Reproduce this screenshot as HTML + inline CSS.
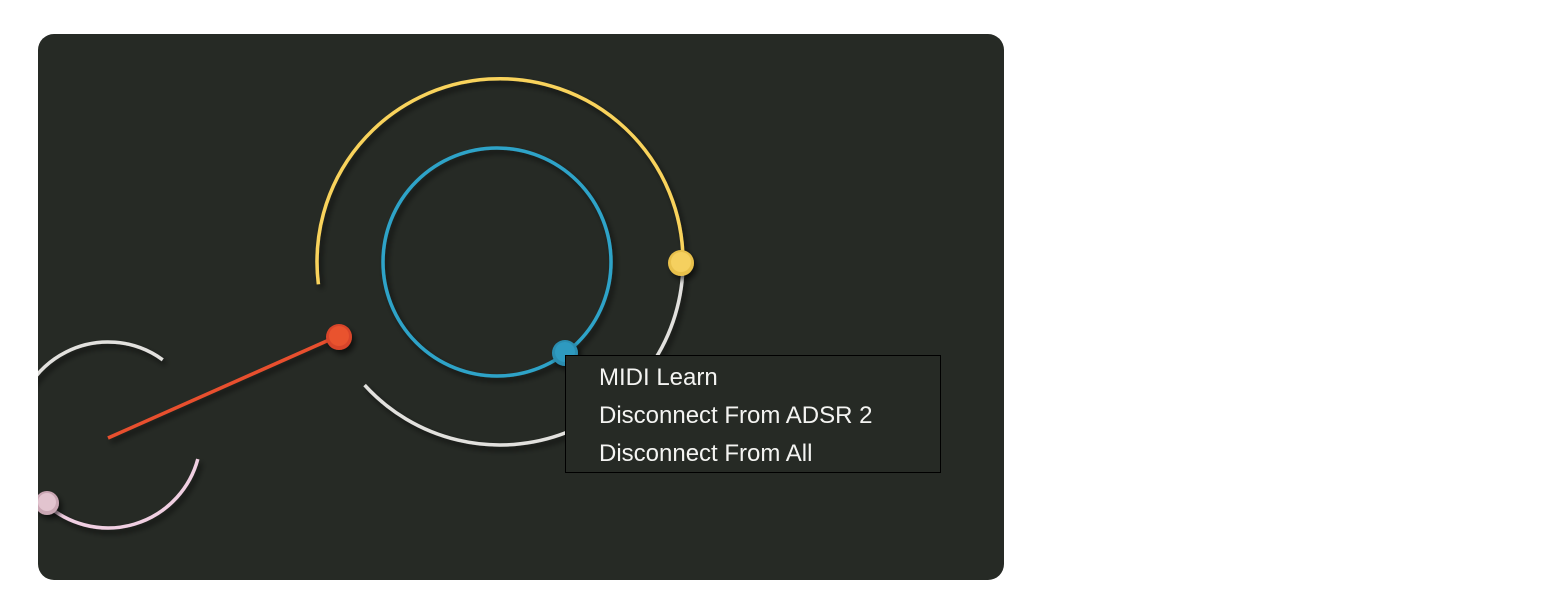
<!DOCTYPE html>
<html><head><style>
html,body{margin:0;padding:0;background:#fff;width:1550px;height:614px;overflow:hidden}
.menu{position:absolute;left:565px;top:355px;width:374px;height:116px;border:1px solid #000;background:#262a25;box-sizing:content-box}
.menu div{position:absolute;left:33px;color:#f4f4f2;font:24px "Liberation Sans",sans-serif;white-space:nowrap}
</style></head><body>
<svg width="1550" height="614" style="position:absolute;left:0;top:0">
<defs>
<clipPath id="c"><rect x="38" y="34" width="966" height="546" rx="16"/></clipPath>
<filter id="s" x="-50%" y="-50%" width="200%" height="200%"><feDropShadow dx="3" dy="4" stdDeviation="3" flood-color="#000" flood-opacity="0.6"/></filter>
</defs>
<rect x="38" y="34" width="966" height="546" rx="16" fill="#262a25"/>
<g clip-path="url(#c)" fill="none" stroke-width="3.5" stroke-linecap="butt" filter="url(#s)">
<path d="M318.4,284.3 A183,183 0 1 1 683,262" stroke="#f9d35c"/>
<path d="M683,262 A183,183 0 0 1 364.6,385.1" stroke="#e2e1de"/>
<circle cx="497" cy="262" r="114" stroke="#2fa3c8"/>
<path d="M15,435 A93,93 0 0 1 162.7,359.8" stroke="#e2e1de"/>
<path d="M197.8,459.1 A93,93 0 0 1 45.8,504.1" stroke="#f0cfe2"/>
<line x1="108" y1="438" x2="338" y2="336" stroke="#e8502e" stroke-width="3.5"/>
</g>
<g clip-path="url(#c)" filter="url(#s)">
<circle cx="681" cy="263" r="13" fill="#e8c04c"/><circle cx="681" cy="262" r="10" fill="#f5d05e"/>
<circle cx="339" cy="337" r="13" fill="#d8452a"/><circle cx="339" cy="336" r="10" fill="#e9522f"/>
<circle cx="565" cy="353" r="13" fill="#2a8db0"/><circle cx="565" cy="352" r="10" fill="#2f9ac0"/>
<circle cx="47" cy="503" r="12" fill="#c9a6b3"/><circle cx="47" cy="502" r="9" fill="#e2c4cf"/>
</g>
</svg>
<div class="menu">
<div style="top:8px">MIDI Learn</div>
<div style="top:46px">Disconnect From ADSR 2</div>
<div style="top:84px">Disconnect From All</div>
</div>
</body></html>
